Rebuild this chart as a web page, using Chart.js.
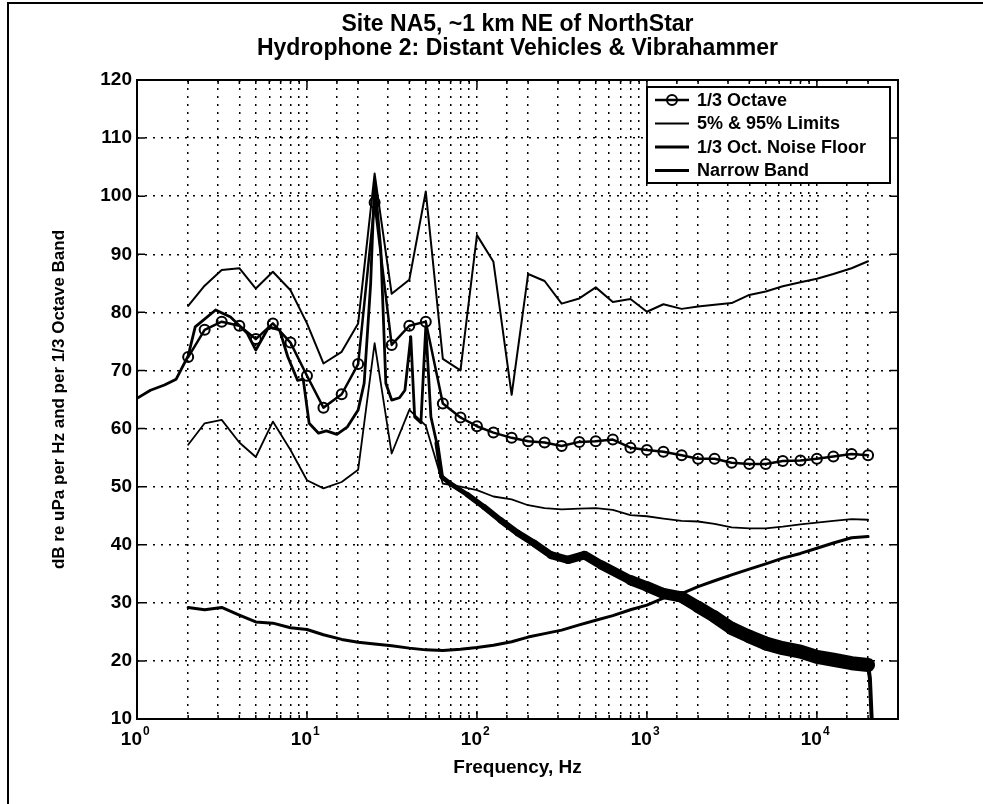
<!DOCTYPE html>
<html>
<head>
<meta charset="utf-8">
<script src="https://cdn.jsdelivr.net/npm/chart.js@4/dist/chart.umd.min.js"></script>
<style>
  html, body { margin: 0; padding: 0; background: #fff; overflow: hidden; }
  #wrap { position: relative; width: 983px; height: 804px; overflow: hidden; }
  #frame { position: absolute; left: 7px; top: 2px; width: 1000px; height: 830px; border: 2px solid #000; box-sizing: border-box; }
  #c { position: absolute; left: 0; top: 0; }
</style>
</head>
<body>
<div id="wrap">
  <div id="frame"></div>
  <canvas id="c" width="983" height="804" style="width:983px;height:804px"></canvas>
</div>
<script>
// 1/3 octave band centre frequencies, Hz
var octFreq = [2, 2.5, 3.15, 4, 5, 6.3, 8, 10, 12.5, 16, 20, 25, 31.5, 40, 50, 63, 80, 100, 125, 160,
  200, 250, 315, 400, 500, 630, 800, 1000, 1250, 1600, 2000, 2500, 3150, 4000, 5000, 6300, 8000,
  10000, 12500, 16000, 20000];

var octLevel = [72.3, 77.0, 78.4, 77.7, 75.4, 78.1, 74.8, 69.1, 63.6, 65.9, 71.1, 98.9, 74.4, 77.7, 78.4,
  64.3, 61.9, 60.4, 59.3, 58.4, 57.8, 57.6, 57.0, 57.7, 57.8, 58.1, 56.7, 56.3, 56.0, 55.4, 54.8, 54.8,
  54.1, 53.9, 53.9, 54.4, 54.5, 54.8, 55.2, 55.6, 55.4];

var upperLimit = [81.1, 84.6, 87.3, 87.6, 84.1, 87.0, 83.8, 78.1, 71.2, 73.2, 78.1, 103.9, 83.2, 85.6, 100.8,
  72.0, 70.0, 93.3, 88.7, 65.8, 86.6, 85.4, 81.5, 82.4, 84.3, 81.8, 82.3, 80.1, 81.4, 80.6, 81.0, 81.3,
  81.6, 83.0, 83.6, 84.5, 85.2, 85.8, 86.6, 87.6, 88.8];

var lowerLimit = [57.2, 60.9, 61.5, 57.6, 55.1, 61.2, 56.3, 51.1, 49.7, 50.8, 52.9, 74.7, 55.7, 63.2, 60.5,
  50.5, 50.0, 49.4, 48.3, 47.8, 46.8, 46.3, 46.1, 46.2, 46.3, 46.0, 45.1, 44.9, 44.5, 44.1, 44.0, 43.6,
  43.0, 42.8, 42.8, 43.1, 43.5, 43.8, 44.1, 44.4, 44.3];

var noiseFloor = [29.2, 28.8, 29.2, 27.9, 26.7, 26.5, 25.7, 25.4, 24.5, 23.7, 23.2, 22.9, 22.6, 22.2, 21.9,
  21.8, 22.0, 22.3, 22.7, 23.3, 24.1, 24.7, 25.3, 26.2, 27.0, 27.8, 28.8, 29.6, 30.8, 31.6, 32.8, 33.8,
  34.8, 35.8, 36.7, 37.7, 38.5, 39.4, 40.3, 41.2, 41.4];

// narrow band spectrum
var nbFreq = [1, 1.2, 1.45, 1.7, 2, 2.2, 2.9, 3.55, 4.45, 5, 5.97, 6.9, 7.7, 8.8, 9.5, 10.3, 11.7, 13, 15,
  17.3, 20, 21.7, 23.7, 25, 27.2, 29.1, 31.5, 35, 37.7, 40.8, 43, 46.8, 50, 53.6, 58, 62, 69, 88, 110,
  138, 174, 218, 273, 343, 430, 540, 800, 1000, 1250, 1600, 2000, 2500, 3150, 4000, 5000, 6300, 8000,
  10000, 12500, 16000, 20000, 20500, 21000];

var nbLevel = [65.2, 66.6, 67.5, 68.5, 72.5, 77.5, 80.4, 79.2, 76.4, 73.5, 77.5, 77.0, 72.4, 68.3, 68.5, 60.9,
  59.2, 59.6, 59.0, 60.3, 63.2, 67.8, 85.0, 102.8, 90.7, 67.8, 64.9, 65.3, 66.6, 75.8, 62.0, 61.0, 77.5,
  62.0, 57.5, 51.7, 50.6, 48.6, 46.5, 44.2, 42.0, 40.2, 38.2, 37.4, 38.2, 36.5, 33.9, 32.8, 31.6, 31.0,
  29.3, 27.6, 25.6, 24.2, 23.0, 22.2, 21.6, 20.7, 20.2, 19.6, 19.3, 17.0, 10.0];

var decades = [1, 10, 100, 1000, 10000];
var decadeExp = ['0', '1', '2', '3', '4'];
var titleLines = ['Site NA5, ~1 km NE of NorthStar', 'Hydrophone 2: Distant Vehicles & Vibrahammer'];
var legendLabels = ['1/3 Octave', '5% & 95% Limits', '1/3 Oct. Noise Floor', 'Narrow Band'];

var FONT = '"Liberation Sans", Arial, sans-serif';

function pts(xs, ys) {
  return xs.map(function (x, i) { return { x: x, y: ys[i] }; });
}

// the narrow band trace gets wider where the spectrum is noisy
function nbWidth(f) {
  if (f < 55) return 2.8;
  if (f >= 20000) return 4;
  return Math.min(14, 4.5 + 5 * Math.log10(f / 55));
}

var frameAndLegend = {
  id: 'frameAndLegend',
  afterDraw: function (chart) {
    var ctx = chart.ctx, a = chart.chartArea, sx = chart.scales.x, sy = chart.scales.y;
    ctx.save();
    ctx.strokeStyle = '#000';
    ctx.lineWidth = 2;
    ctx.strokeRect(a.left, a.top, a.right - a.left, a.bottom - a.top);

    // inward tick marks
    ctx.lineWidth = 1.5;
    ctx.beginPath();
    sy.ticks.forEach(function (t) {
      var y = sy.getPixelForValue(t.value);
      ctx.moveTo(a.left, y); ctx.lineTo(a.left + 8, y);
      ctx.moveTo(a.right, y); ctx.lineTo(a.right - 8, y);
    });
    sx.ticks.forEach(function (t) {
      var x = sx.getPixelForValue(t.value);
      var len = decades.indexOf(t.value) >= 0 ? 8 : 4;
      ctx.moveTo(x, a.bottom); ctx.lineTo(x, a.bottom - len);
      ctx.moveTo(x, a.top); ctx.lineTo(x, a.top + len);
    });
    ctx.stroke();

    // decade labels with raised exponent
    ctx.fillStyle = '#000';
    ctx.textBaseline = 'alphabetic';
    decades.forEach(function (d, i) {
      var x = sx.getPixelForValue(d);
      ctx.font = 'bold 19px ' + FONT;
      ctx.textAlign = 'right';
      ctx.fillText('10', x + 5, a.bottom + 26);
      ctx.font = 'bold 12px ' + FONT;
      ctx.textAlign = 'left';
      ctx.fillText(decadeExp[i], x + 6, a.bottom + 16);
    });

    // title
    ctx.font = 'bold 23px ' + FONT;
    ctx.textAlign = 'center';
    var cx = (a.left + a.right) / 2;
    ctx.fillText(titleLines[0], cx, 31);
    ctx.fillText(titleLines[1], cx, 55);

    // legend box
    var bw = 243, bh = 96;
    var bx = a.right - 8 - bw, by = a.top + 7;
    ctx.fillStyle = '#fff';
    ctx.fillRect(bx, by, bw, bh);
    ctx.lineWidth = 2;
    ctx.strokeRect(bx, by, bw, bh);
    ctx.font = 'bold 18px ' + FONT;
    ctx.textAlign = 'left';
    ctx.textBaseline = 'middle';
    var widths = [2.5, 1.8, 3, 2.8];
    legendLabels.forEach(function (lab, i) {
      var y = by + 13 + i * 23.5;
      ctx.lineWidth = widths[i];
      ctx.beginPath();
      ctx.moveTo(bx + 8, y); ctx.lineTo(bx + 42, y);
      ctx.stroke();
      if (i === 0) {
        ctx.lineWidth = 2;
        ctx.beginPath();
        ctx.arc(bx + 25, y, 5, 0, Math.PI * 2);
        ctx.stroke();
      }
      ctx.fillStyle = '#000';
      ctx.fillText(lab, bx + 50, y + 1);
    });
    ctx.restore();
  }
};

var line = { borderColor: '#000', pointRadius: 0, tension: 0, fill: false,
  borderJoinStyle: 'round', borderCapStyle: 'round' };

var chart = new Chart(document.getElementById('c'), {
  type: 'line',
  data: {
    datasets: [
      Object.assign({}, line, {
        label: legendLabels[0], data: pts(octFreq, octLevel), borderWidth: 2.5,
        pointRadius: 5, pointBorderWidth: 2, pointBorderColor: '#000',
        pointBackgroundColor: 'rgba(0,0,0,0)', pointStyle: 'circle'
      }),
      Object.assign({}, line, { label: legendLabels[1], data: pts(octFreq, upperLimit), borderWidth: 2 }),
      Object.assign({}, line, { label: legendLabels[1], data: pts(octFreq, lowerLimit), borderWidth: 1.8 }),
      Object.assign({}, line, { label: legendLabels[2], data: pts(octFreq, noiseFloor), borderWidth: 3 }),
      Object.assign({}, line, {
        label: legendLabels[3], data: pts(nbFreq, nbLevel), borderWidth: 2.8,
        segment: { borderWidth: function (c) { return nbWidth(c.p0.parsed.x); } }
      })
    ]
  },
  options: {
    responsive: false,
    animation: false,
    layout: { padding: { left: 40, right: 85, top: 80, bottom: 15 } },
    plugins: { legend: { display: false }, tooltip: { enabled: false }, title: { display: false } },
    scales: {
      x: {
        type: 'logarithmic',
        min: 1,
        max: 30000,
        border: { display: false, dash: [2, 6] },
        grid: { color: '#000', lineWidth: 1.5, drawTicks: false },
        ticks: { display: false, autoSkip: false, maxRotation: 0 },
        title: { display: true, text: 'Frequency, Hz', color: '#000',
          font: { family: FONT, size: 19, weight: 'bold' }, padding: { top: 0, bottom: 10 } },
        afterFit: function (s) { s.height = 70; }
      },
      y: {
        min: 10,
        max: 120,
        border: { display: false, dash: [2, 6] },
        grid: { color: '#000', lineWidth: 1.5, drawTicks: false },
        ticks: { stepSize: 10, padding: 5, color: '#000',
          font: { family: FONT, size: 19, weight: 'bold' } },
        title: { display: true, text: 'dB re uPa per Hz and per 1/3 Octave Band', color: '#000',
          font: { family: FONT, size: 17, weight: 'bold' }, padding: { top: 9, bottom: 0 } },
        afterFit: function (s) { s.width = 97; }
      }
    }
  },
  plugins: [frameAndLegend]
});
</script>
</body>
</html>
